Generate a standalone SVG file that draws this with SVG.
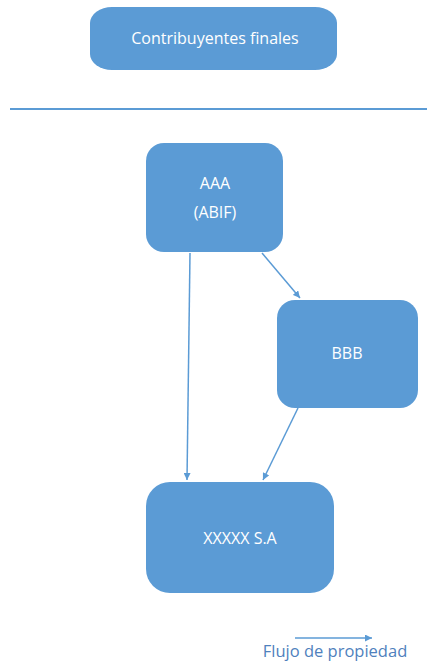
<svg xmlns="http://www.w3.org/2000/svg" width="427" height="668" viewBox="0 0 427 668">
<style>
.box{fill:#5B9BD5;}
.lbl{font-family:"Open Sans","Noto Sans",sans-serif;font-size:16px;fill:#FFFFFF;text-anchor:middle;}
.edge{stroke:#5B9BD5;stroke-width:1.5;fill:none;marker-end:url(#ah);}
.legend{font-family:"Open Sans","Noto Sans",sans-serif;font-size:16.5px;fill:#4F81BD;text-anchor:middle;}
</style>
<defs>
<marker id="ah" viewBox="0 0 10 10" refX="10" refY="5" markerWidth="7" markerHeight="7" orient="auto" markerUnits="userSpaceOnUse">
<path d="M0,0 L10,5 L0,10 z" fill="#5B9BD5"/>
</marker>
</defs>
<rect width="427" height="668" fill="#FFFFFF"/>
<g id="contribuyentes">
<rect class="box" x="90" y="7" width="247" height="63" rx="22" ry="16"/>
<text class="lbl" x="215" y="44">Contribuyentes finales</text>
</g>
<line x1="10" y1="109" x2="427" y2="109" stroke="#5B9BD5" stroke-width="2"/>
<g id="aaa">
<rect class="box" x="146" y="143" width="137" height="109" rx="18"/>
<text class="lbl" x="215" y="189">AAA</text>
<text class="lbl" x="215" y="218">(ABIF)</text>
</g>
<g id="bbb">
<rect class="box" x="277" y="300" width="141" height="108" rx="18"/>
<text class="lbl" x="347" y="359">BBB</text>
</g>
<g id="xxxxx">
<rect class="box" x="146" y="482" width="188" height="111" rx="24"/>
<text class="lbl" x="240" y="544">XXXXX S.A</text>
</g>
<g id="connectors">
<line class="edge" x1="190" y1="253" x2="187" y2="480"/>
<line class="edge" x1="262" y1="253" x2="300" y2="298"/>
<line class="edge" x1="298" y1="408" x2="263" y2="480"/>
<line class="edge" x1="295" y1="638" x2="372" y2="638"/>
</g>
<g id="legend">
<text class="legend" x="335" y="657">Flujo de propiedad</text>
</g>
</svg>
